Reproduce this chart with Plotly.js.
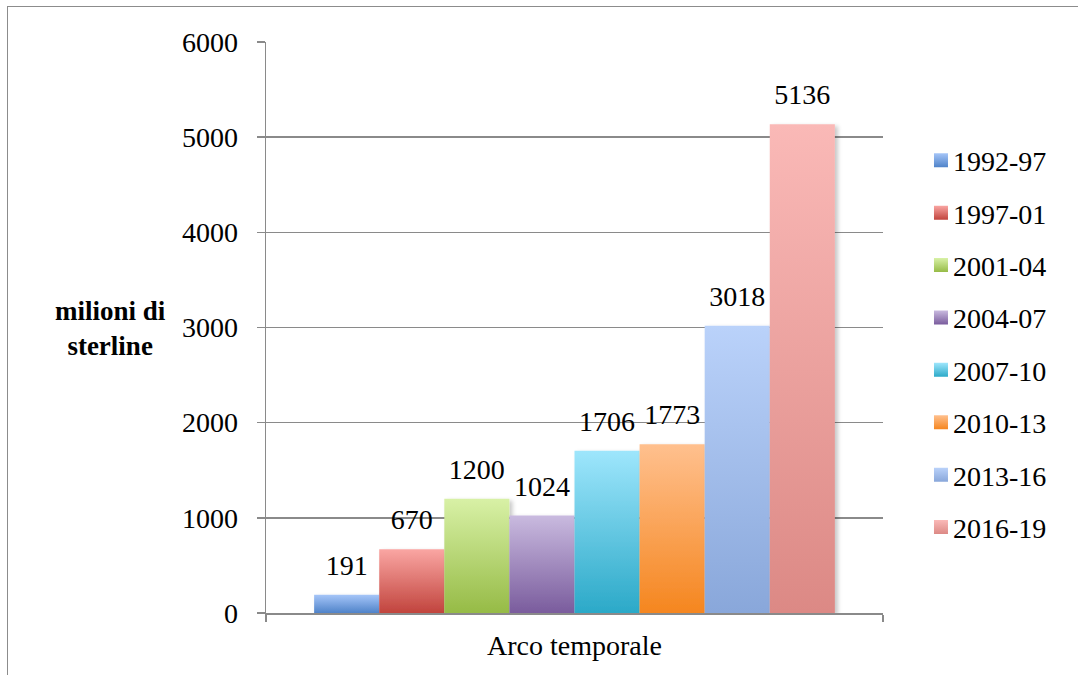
<!DOCTYPE html>
<html>
<head>
<meta charset="utf-8">
<script src="https://cdn.plot.ly/plotly-3.0.1.min.js"></script>
<style>
  html, body { margin: 0; padding: 0; background: #fff; overflow: hidden; }
  #chart { width: 1078px; height: 675px; }
  #frame { position: absolute; left: 7px; top: 6px; width: 1200px; height: 1000px;
           border-left: 1.5px solid #8c8c8c; border-top: 1.5px solid #8c8c8c;
           pointer-events: none; z-index: 10; }
</style>
</head>
<body>
<div id="frame"></div>
<div id="chart"></div>
<script>
// ---- data ----
const category = 'Arco temporale';
const periods = ['1992-97', '1997-01', '2001-04', '2004-07', '2007-10', '2010-13', '2013-16', '2016-19'];
const values = [191, 670, 1200, 1024, 1706, 1773, 3018, 5136];
const yTickVals = [0, 1000, 2000, 3000, 4000, 5000, 6000];
const yTitle = 'milioni di<br>sterline';

// ---- styles ----
const topColors = ['#a5c5f8', '#faa6a3', '#d8f1a6', '#c9badf', '#9ee6fc', '#ffc08e', '#bad2fa', '#fab9b7'];
const bottomColors = ['#4f83c9', '#c1443d', '#96bb46', '#7a5c9d', '#2ba9c8', '#f5861f', '#89a7da', '#dc8985'];
const midColors = ['#7aa4e0', '#de7570', '#b8d676', '#a38bbe', '#64c7e2', '#faa356', '#a2bdea', '#eba19e'];
const FONT = 'Liberation Serif, Times New Roman, serif';
const GRAY = '#8a8a8a';

const traces = periods.map((p, i) => ({
  type: 'bar',
  name: p,
  x: [category],
  y: [values[i]],
  text: [String(values[i])],
  textposition: 'outside',
  textfont: { family: FONT, size: 28, color: '#000' },
  cliponaxis: false,
  marker: { color: midColors[i], line: { width: 0 } },
  legendgroup: p,
  hoverinfo: 'none'
}));

const layout = {
  width: 1078,
  height: 675,
  margin: { l: 266, r: 195, t: 42, b: 62 },
  paper_bgcolor: '#fff',
  plot_bgcolor: '#fff',
  font: { family: FONT, size: 28, color: '#000' },
  barmode: 'group',
  bargap: 0.156,
  bargroupgap: 0,
  showlegend: true,
  legend: {
    x: 1.0486, xanchor: 'left',
    y: 0.471, yanchor: 'middle',
    font: { family: FONT, size: 28, color: '#000' },
    traceorder: 'grouped',
    tracegroupgap: 13,
    bgcolor: 'rgba(0,0,0,0)',
    borderwidth: 0
  },
  xaxis: {
    type: 'category',
    tickson: 'boundaries',
    ticks: 'outside',
    ticklen: 7,
    tickwidth: 1.5,
    tickcolor: GRAY,
    showline: true,
    linecolor: GRAY,
    linewidth: 1.5,
    showgrid: false,
    zeroline: false,
    ticklabelstandoff: 7,
    tickfont: { family: FONT, size: 28, color: '#000' }
  },
  yaxis: {
    range: [0, 6000],
    tickmode: 'array',
    tickvals: yTickVals,
    ticktext: yTickVals.map(String),
    ticks: 'outside',
    ticklen: 8,
    tickwidth: 1.5,
    tickcolor: GRAY,
    showline: true,
    linecolor: GRAY,
    linewidth: 1.5,
    showgrid: true,
    gridcolor: GRAY,
    gridwidth: 1.5,
    zeroline: false,
    ticklabelstandoff: 13,
    tickfont: { family: FONT, size: 28, color: '#000' }
  },
  annotations: [{
    text: '<b>' + yTitle + '</b>',
    xref: 'paper', yref: 'paper',
    x: -0.2528, xanchor: 'center',
    y: 0.499, yanchor: 'middle',
    showarrow: false,
    align: 'center',
    font: { family: FONT, size: 27, color: '#000' }
  }]
};

Plotly.newPlot('chart', traces, layout, { staticPlot: true, displayModeBar: false }).then(gd => {
  const NS = 'http://www.w3.org/2000/svg';
  const svg = gd.querySelector('.main-svg');
  let defs = svg.querySelector('defs');
  if (!defs) { defs = document.createElementNS(NS, 'defs'); svg.insertBefore(defs, svg.firstChild); }
  periods.forEach((p, i) => {
    const lg = document.createElementNS(NS, 'linearGradient');
    lg.setAttribute('id', 'bargrad' + i);
    lg.setAttribute('x1', '0'); lg.setAttribute('y1', '0');
    lg.setAttribute('x2', '0'); lg.setAttribute('y2', '1');
    [[0, topColors[i]], [1, bottomColors[i]]].forEach(([o, c]) => {
      const s = document.createElementNS(NS, 'stop');
      s.setAttribute('offset', o);
      s.setAttribute('stop-color', c);
      lg.appendChild(s);
    });
    defs.appendChild(lg);
  });
  const f = document.createElementNS(NS, 'filter');
  f.setAttribute('id', 'barshadow');
  f.setAttribute('x', '-20%'); f.setAttribute('y', '-20%');
  f.setAttribute('width', '150%'); f.setAttribute('height', '150%');
  const ds = document.createElementNS(NS, 'feDropShadow');
  ds.setAttribute('dx', '3'); ds.setAttribute('dy', '2');
  ds.setAttribute('stdDeviation', '2');
  ds.setAttribute('flood-color', '#000');
  ds.setAttribute('flood-opacity', '0.22');
  f.appendChild(ds);
  defs.appendChild(f);

  gd.querySelectorAll('.barlayer .trace').forEach((tr, i) => {
    tr.querySelectorAll('.point path').forEach(pth => {
      pth.style.fill = 'url(#bargrad' + i + ')';
      pth.setAttribute('filter', 'url(#barshadow)');
    });
    tr.querySelectorAll('text.bartext').forEach(t => {
      const tf = t.getAttribute('transform') || '';
      t.setAttribute('transform', 'translate(0,-11) ' + tf);
    });
  });
  gd.querySelectorAll('.legend .traces').forEach((tr, i) => {
    tr.querySelectorAll('.legendpoints path').forEach(pth => {
      pth.style.fill = 'url(#bargrad' + i + ')';
      pth.setAttribute('d', 'M7,7H-7V-7H7Z');
      pth.setAttribute('transform', 'translate(28,0)');
    });
  });
});
</script>
</body>
</html>
